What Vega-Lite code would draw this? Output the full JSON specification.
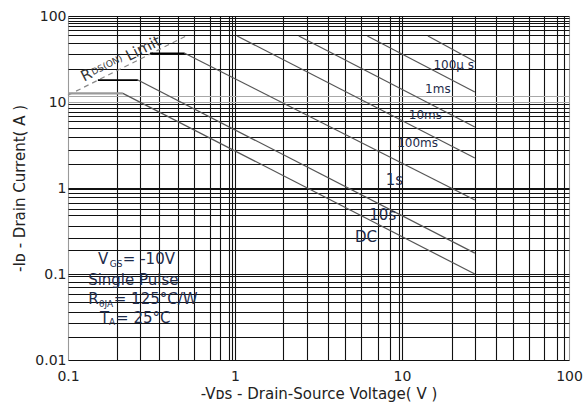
{
  "$schema": "https://vega.github.io/schema/vega-lite/v6.json",
  "width": 501,
  "height": 344,
  "autosize": "none",
  "padding": {"left": 68, "top": 16, "right": 19, "bottom": 45},
  "background": "white",
  "config": {
    "view": {"stroke": null},
    "axis": {
      "labelFont": "DejaVu Sans",
      "labelFontSize": 14,
      "labelColor": "#222",
      "titleFont": "DejaVu Sans",
      "titleFontSize": 15,
      "titleFontWeight": "normal",
      "titleColor": "#222",
      "ticks": false,
      "domain": false,
      "grid": true,
      "gridOpacity": 1,
      "gridWidth": 1.1,
      "labelOverlap": false,
      "labelFlush": false,
      "zindex": 1
    }
  },
  "resolve": {"scale": {"size": "independent", "color": "independent", "strokeWidth": "independent"}},
  "datasets": {
    "curves": [
      {"curve": "100us", "kind": "slope", "x": 14.3, "y": 58.5},
      {"curve": "100us", "kind": "slope", "x": 27.3, "y": 29.5},
      {"curve": "1ms", "kind": "slope", "x": 6.2, "y": 58.5},
      {"curve": "1ms", "kind": "slope", "x": 27.3, "y": 13.1},
      {"curve": "10ms", "kind": "slope", "x": 2.41, "y": 58.5},
      {"curve": "10ms", "kind": "slope", "x": 27.3, "y": 5.12},
      {"curve": "100ms", "kind": "slope", "x": 1.03, "y": 58.5},
      {"curve": "100ms", "kind": "slope", "x": 27.3, "y": 2.23},
      {"curve": "1s", "kind": "limit", "x": 0.31, "y": 36.8},
      {"curve": "1s", "kind": "limit", "x": 0.5, "y": 36.8},
      {"curve": "1s", "kind": "slope", "x": 0.5, "y": 36.8},
      {"curve": "1s", "kind": "slope", "x": 27.3, "y": 0.725},
      {"curve": "10s", "kind": "limit", "x": 0.151, "y": 18},
      {"curve": "10s", "kind": "limit", "x": 0.262, "y": 18},
      {"curve": "10s", "kind": "slope", "x": 0.262, "y": 18},
      {"curve": "10s", "kind": "slope", "x": 27.3, "y": 0.175},
      {"curve": "DC", "kind": "dc limit", "x": 0.1, "y": 12.6},
      {"curve": "DC", "kind": "dc limit", "x": 0.213, "y": 12.6},
      {"curve": "DC", "kind": "slope", "x": 0.213, "y": 12.6},
      {"curve": "DC", "kind": "slope", "x": 27.3, "y": 0.1}
    ],
    "rdson": [
      {"x": 0.1, "y": 12.0},
      {"x": 0.524, "y": 60.1}
    ],
    "curveLabels": [
      {"text": "100µ s", "grp": "small", "x": 20.4, "y": 26.9},
      {"text": "1ms", "grp": "small", "x": 16.4, "y": 14.2},
      {"text": "10ms", "grp": "small", "x": 13.8, "y": 7.06},
      {"text": "100ms", "grp": "small", "x": 12.4, "y": 3.34},
      {"text": "1s", "grp": "big", "x": 9.0, "y": 1.24},
      {"text": "10s", "grp": "big", "x": 7.67, "y": 0.485},
      {"text": "DC", "grp": "big", "x": 6.08, "y": 0.269}
    ],
    "rdsLabel": [
      {"text": "R", "grp": "big", "x": 0.129, "y": 20.6},
      {"text": "DS(ON)", "grp": "sub", "x": 0.171, "y": 26.9},
      {"text": "Limit", "grp": "big", "x": 0.282, "y": 42.1}
    ],
    "notes": [
      {"text": "V", "grp": "big", "x": 0.151, "y": 0.149},
      {"text": "GS", "grp": "sub", "x": 0.178, "y": 0.131},
      {"text": "= -10V", "grp": "big", "x": 0.213, "y": 0.149},
      {"text": "Single Pulse", "grp": "big", "x": 0.132, "y": 0.0851},
      {"text": "R", "grp": "big", "x": 0.132, "y": 0.0512},
      {"text": "θJA", "grp": "sub", "x": 0.1535, "y": 0.0448},
      {"text": "= 125°C/W", "grp": "big", "x": 0.188, "y": 0.0512},
      {"text": "T", "grp": "big", "x": 0.1556, "y": 0.0308},
      {"text": "A", "grp": "sub", "x": 0.176, "y": 0.0277},
      {"text": "= 25°C", "grp": "big", "x": 0.194, "y": 0.0308}
    ]
  },
  "encoding": {
    "x": {
      "field": "x",
      "type": "quantitative",
      "scale": {"type": "log", "domain": [0.1, 100], "nice": false},
      "axis": {
        "title": "-Vᴅꜱ  - Drain-Source Voltage( V )",
        "values": [0.1, 0.1965, 0.27, 0.352, 0.456, 0.568, 0.704, 0.818, 0.925, 0.96, 1, 1.95, 2.7, 3.61, 4.58, 5.71, 7.21, 8.49, 9.63, 10, 19.8, 27.3, 36.3, 46.1, 57.4, 71.0, 84.2, 93.4, 100],
        "labelExpr": "indexof([0.1, 1, 10, 100], datum.value) >= 0 ? format(datum.value, '~g') : ''",
        "labelPadding": 9,
        "titlePadding": 3,
        "gridColor": {"condition": {"test": "datum.value == 0.1 || datum.value == 100", "value": "#9a9a9a"}, "value": "#111"}
      }
    },
    "y": {
      "field": "y",
      "type": "quantitative",
      "scale": {"type": "log", "domain": [0.01, 100], "nice": false},
      "axis": {
        "title": "-Iᴅ - Drain Current( A )",
        "values": [0.01, 0.0187, 0.0267, 0.0359, 0.0476, 0.058, 0.07, 0.0813, 0.094, 0.1, 0.19, 0.264, 0.366, 0.486, 0.57, 0.661, 0.776, 0.875, 0.97, 1, 1.89, 2.77, 3.95, 4.95, 6.01, 6.93, 7.71, 8.45, 9.48, 10, 11.6, 24.2, 35.9, 48.1, 60.1, 68.7, 76.5, 82.2, 88.2, 94.0, 100],
        "labelExpr": "indexof([0.01, 0.1, 1, 10, 100], datum.value) >= 0 ? format(datum.value, '~g') : ''",
        "labelPadding": 2,
        "titlePadding": 7,
        "gridColor": {"condition": {"test": "datum.value == 10 || datum.value == 11.6", "value": "#a8a8a8"}, "value": "#111"}
      }
    }
  },
  "layer": [
    {
      "data": {"name": "rdson"},
      "mark": {"type": "line", "color": "#888", "strokeWidth": 1.2, "strokeDash": [5, 4]},
      "encoding": {}
    },
    {
      "data": {"name": "curves"},
      "mark": {"type": "line"},
      "encoding": {
        "detail": {"field": "curve"},
        "color": {"field": "kind", "type": "nominal", "scale": {"domain": ["slope", "limit", "dc limit"], "range": ["#555555", "#000000", "#9a9a9a"]}, "legend": null},
        "strokeWidth": {"field": "kind", "type": "nominal", "scale": {"domain": ["slope", "limit", "dc limit"], "range": [1.2, 2.4, 2.2]}, "legend": null}
      }
    },
    {
      "data": {"name": "curveLabels"},
      "mark": {"type": "text", "font": "DejaVu Sans", "color": "#1e2b4a", "align": "center", "baseline": "middle"},
      "encoding": {
        "text": {"field": "text"},
        "size": {"field": "grp", "type": "nominal", "scale": {"domain": ["small", "big"], "range": [12, 15]}, "legend": null}
      }
    },
    {
      "data": {"name": "rdsLabel"},
      "mark": {"type": "text", "font": "DejaVu Sans", "color": "#333", "align": "center", "baseline": "middle", "angle": -27},
      "encoding": {
        "text": {"field": "text"},
        "size": {"field": "grp", "type": "nominal", "scale": {"domain": ["sub", "big"], "range": [9, 15]}, "legend": null}
      }
    },
    {
      "data": {"name": "notes"},
      "mark": {"type": "text", "font": "DejaVu Sans", "color": "#1e2b4a", "align": "left", "baseline": "middle"},
      "encoding": {
        "text": {"field": "text"},
        "size": {"field": "grp", "type": "nominal", "scale": {"domain": ["sub", "big"], "range": [9, 15]}, "legend": null}
      }
    }
  ]
}
